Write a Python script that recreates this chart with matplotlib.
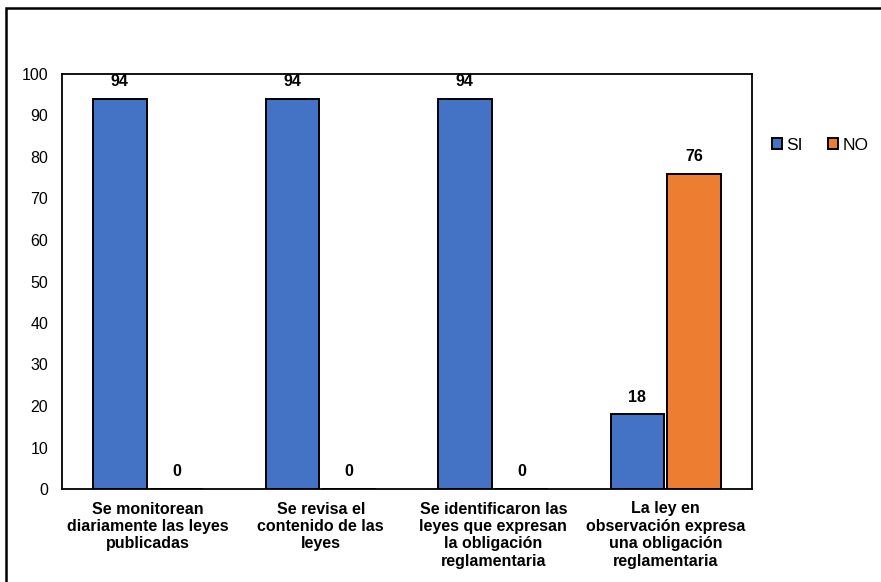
import matplotlib
matplotlib.use("Agg")
import matplotlib.pyplot as plt
from matplotlib.patches import Rectangle
import numpy as np

plt.rcParams['font.family'] = ['Liberation Sans', 'DejaVu Sans']

categories = [
    "Se monitorean\ndiariamente las leyes\npublicadas",
    "Se revisa el\ncontenido de las\nleyes",
    "Se identificaron las\nleyes que expresan\nla obligación\nreglamentaria",
    "La ley en\nobservación expresa\nuna obligación\nreglamentaria",
]
si_values = [94, 94, 94, 18]
no_values = [0, 0, 0, 76]
series_names = ["SI", "NO"]
colors = ["#4472C4", "#ED7D31"]

fig = plt.figure(figsize=(8.81, 5.82), dpi=100)
ax = fig.add_axes([62 / 881, 1 - 489 / 582, (752 - 62) / 881, (489 - 74) / 582])

x = np.arange(len(categories))
w = 0.31
off = 0.165
b1 = ax.bar(x - off, si_values, w, color=colors[0], edgecolor="black", linewidth=1.4, label=series_names[0])
b2 = ax.bar(x + off, no_values, w, color=colors[1], edgecolor="black", linewidth=1.4, label=series_names[1])

for bars, vals in ((b1, si_values), (b2, no_values)):
    for rect, v in zip(bars, vals):
        ax.annotate(f"{v}", (rect.get_x() + rect.get_width() / 2, v),
                    xytext=(0, 7), textcoords="offset points",
                    ha="center", va="bottom", fontsize=11.5, fontweight="bold")

ax.set_xlim(-0.5, len(categories) - 0.5)
ax.set_ylim(0, 100)
ax.set_yticks(range(0, 101, 10))
ax.set_xticks(x)
ax.set_xticklabels(categories, fontsize=11.5, fontweight="bold", linespacing=1.2)
ax.tick_params(axis="both", length=0, labelsize=11.5)
ax.tick_params(axis="y", pad=10)
ax.tick_params(axis="x", pad=9)
for s in ax.spines.values():
    s.set_linewidth(1.3)
    s.set_color("black")

leg = fig.legend(handles=[b1, b2], labels=series_names, loc="center left",
                 bbox_to_anchor=(772 / 881, 1 - 145 / 582), frameon=False,
                 borderpad=0, borderaxespad=0,
                 ncol=2, fontsize=12.5, handlelength=0.55, handleheight=0.55,
                 handletextpad=0.25, columnspacing=1.5)

fig.patches.append(Rectangle((6 / 881, -0.1), 1.2, 1 - 8 / 582 + 0.1,
                             transform=fig.transFigure, fill=False,
                             edgecolor="black", linewidth=1.8))

fig.savefig("out.png", dpi=100)
